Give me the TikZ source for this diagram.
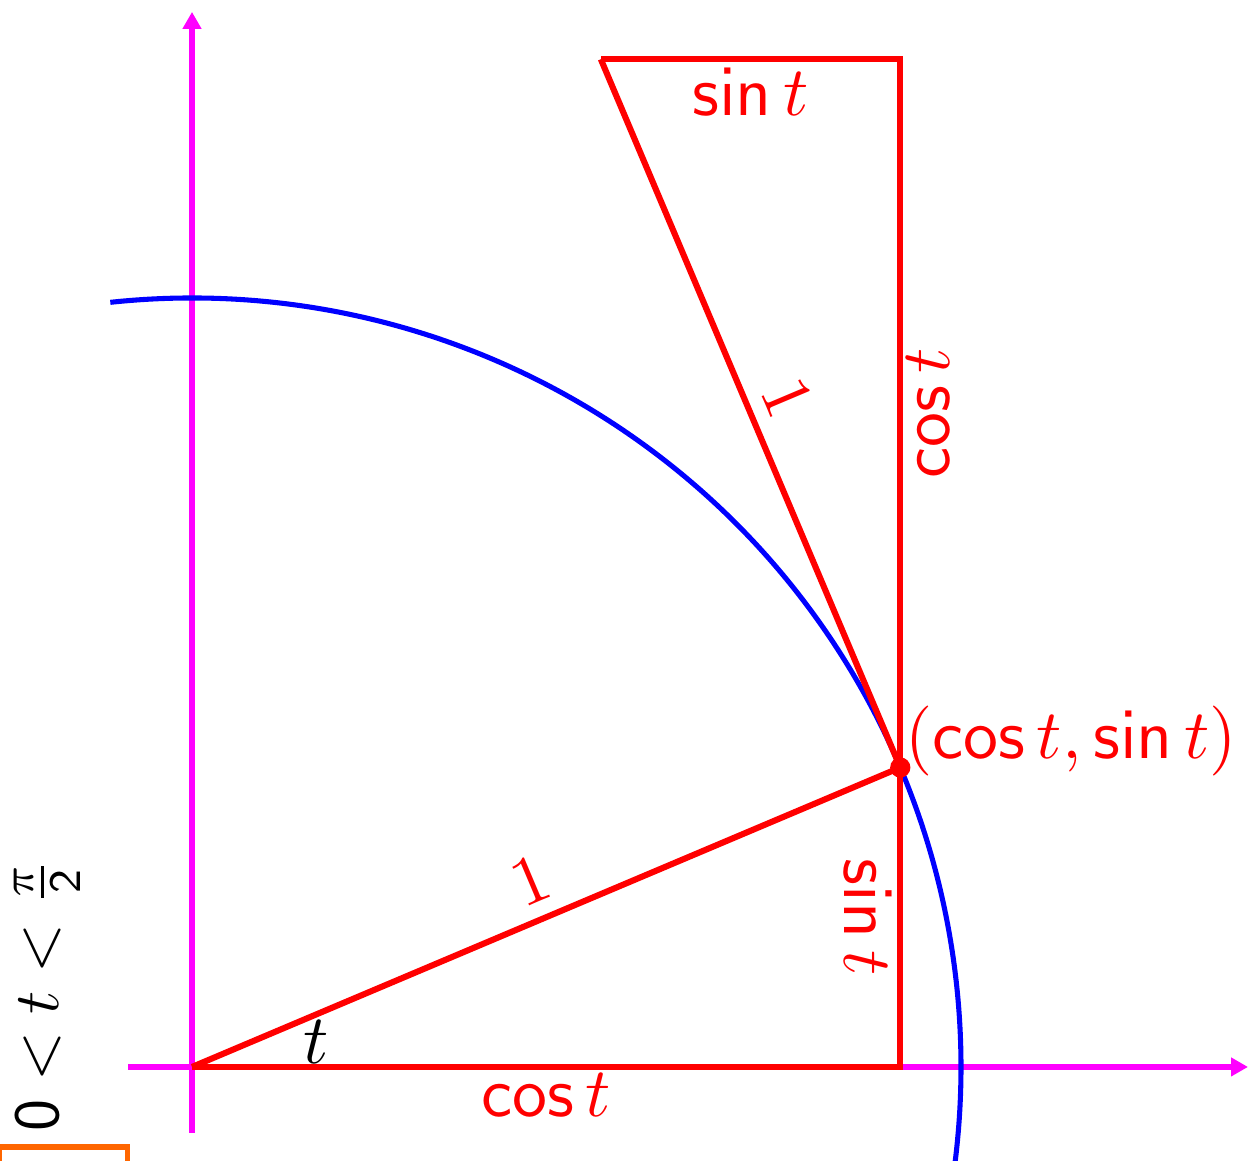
\RequirePackage{fix-cm}
\documentclass[tikz,border=0pt]{standalone}
\usepackage{amsmath}
\usetikzlibrary{arrows.meta,calc}
\definecolor{boxorange}{RGB}{255,102,0}
\definecolor{axismagenta}{RGB}{255,0,255}
\definecolor{circblue}{RGB}{0,0,255}
\definecolor{sidered}{RGB}{255,0,0}
\tikzset{>={Triangle[length=5pt,width=5.3pt]}}
\tikzset{font=\fontsize{10}{12}\selectfont}
\tikzset{every node/.style={scale=2.07, transform shape},
  axis/.style={axismagenta, line width=1.8pt, ->},
  side/.style={sidered, line width=1.8pt},
  lbl/.style={sidered, inner sep=0.3pt},
  onelbl/.style={sidered, fill=white, inner sep=0.5pt, sloped, above=1pt}}
\begin{document}
\begin{tikzpicture}[x=8cm, y=8cm]
        \pgfmathsetmacro{\ang}{deg(0.4)}
        \coordinate (O) at (0, 0); %
        \coordinate (P) at (\ang:1); %
        \coordinate (A) at (P |- O); %
        \coordinate (Q) at ($(P)+(0,{cos(\ang)})$); %
        \coordinate (R) at ($(Q)-({sin(\ang)},0)$); %
        \coordinate (xs) at (-0.0832, 0); %
        \coordinate (xe) at (1.3732, 0); %
        \coordinate (ys) at (0, -0.0858); %
        \coordinate (ye) at (0, 1.372); %
        \useasboundingbox (-0.2497, -0.1222) rectangle (1.3732, 1.3875); %
        \clip (-0.2497, -0.1222) rectangle (1.3732, 1.3875); %
        % axes and circle
        \draw[axis] (xs) -- (xe); %
        \draw[axis] (ys) -- (ye); %
        \draw[circblue, line width=1.5pt] (96.1:1) arc[start angle=96.1, end
          angle=-12, radius=1]; %
        % the two triangles
        \draw[side] (O) -- (A) node[lbl, midway, below, inner sep=0pt] (cosb)
          {$\mathsf{cos}\,t$} -- (P) node[lbl, midway, rotate=-90,
          anchor=north, fill=white] (sinr) {$\mathsf{sin}\,t$}; %
        \draw[side] (O) -- (P) node[onelbl, midway] (oneb) {$1$}; %
        \draw[side] (P) -- (Q) node[lbl, midway, rotate=90, anchor=north,
          inner sep=0pt] (cosr) {$\mathsf{cos}\,t$} -- (R) node[lbl, midway,
          below] (sint) {$\mathsf{sin}\,t$}; %
        \draw[side] (R) -- (P) node[onelbl, midway] (onet) {$1$}; %
        \fill[sidered] (P) circle (3pt); %
        \node[sidered, anchor=west, inner sep=0.5pt, yshift=0.135cm]
          (pt) at (P) {$(\mathsf{cos}\,t, \mathsf{sin}\,t)$}; %
        \node (ang) at (11.46:0.165) {$t$}; %
        \node[rotate=90, inner sep=0pt, scale=0.918] (range) at (-0.1885, 0.0936)
          {$\mathsf{0}<t<\frac{\pi}{\mathsf{2}}$}; %
        \draw[boxorange, line width=1.6pt] (-0.2510, -0.1040) rectangle
          (-0.0839, -0.2000); %
      \end{tikzpicture}
\end{document}
